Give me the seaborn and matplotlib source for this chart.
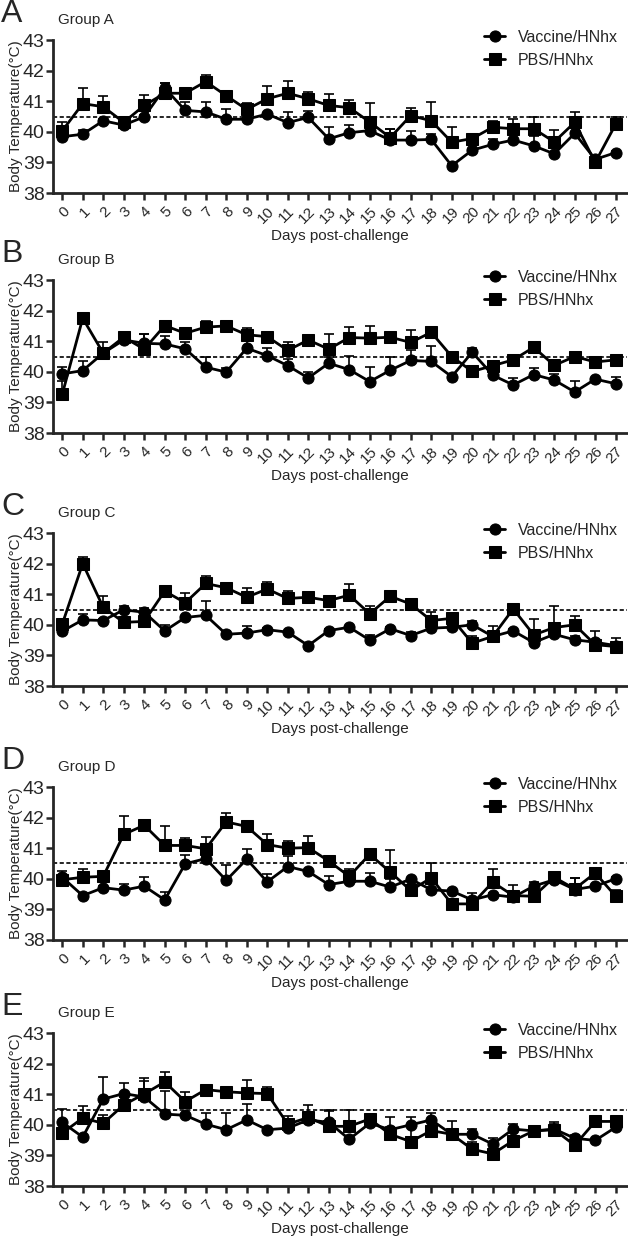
import matplotlib
matplotlib.use("Agg")
import matplotlib.pyplot as plt
import numpy as np
import pandas as pd
import seaborn as sns

sns.set_style("ticks")
plt.rcParams["font.family"] = ["Liberation Sans", "DejaVu Sans"]

days = list(range(28))
series = ["Vaccine/HNhx", "PBS/HNhx"]
groups = ["Group A", "Group B", "Group C", "Group D", "Group E"]
letters = ["A", "B", "C", "D", "E"]

vac_a = [39.84, 39.92, 40.36, 40.22, 40.49, 41.43, 40.70, 40.65, 40.41, 40.41, 40.58, 40.30, 40.47, 39.77,
         39.97, 40.04, 39.73, 39.73, 39.75, 38.89, 39.40, 39.59, 39.73, 39.54, 39.28, 39.95, 39.10, 39.32]
vac_a_err = [0.05, 0.14, 0.05, 0.05, 0.05, 0.16, 0.28, 0.33, 0.35, 0.05, 0.05, 0.34, 0.22, 0.39,
             0.24, 0.05, 0.35, 0.31, 0.17, 0.05, 0.05, 0.17, 0.05, 0.32, 0.05, 0.05, 0.05, 0.05]
pbs_a = [40.03, 40.92, 40.82, 40.31, 40.86, 41.26, 41.26, 41.64, 41.18, 40.73, 41.08, 41.26, 41.08, 40.86,
         40.79, 40.32, 39.81, 40.53, 40.36, 39.66, 39.78, 40.15, 40.10, 40.10, 39.67, 40.31, 39.00, 40.25]
pbs_a_err = [0.29, 0.50, 0.36, 0.05, 0.35, 0.33, 0.05, 0.20, 0.05, 0.22, 0.41, 0.40, 0.23, 0.36,
             0.26, 0.63, 0.27, 0.25, 0.62, 0.51, 0.05, 0.21, 0.32, 0.37, 0.38, 0.35, 0.05, 0.22]

vac_b = [39.93, 40.04, 40.61, 41.04, 40.93, 40.91, 40.75, 40.15, 39.99, 40.77, 40.53, 40.20, 39.80, 40.28,
         40.07, 39.68, 40.05, 40.37, 40.34, 39.84, 40.64, 39.89, 39.57, 39.91, 39.73, 39.34, 39.76, 39.61]
vac_b_err = [0.24, 0.32, 0.05, 0.05, 0.29, 0.27, 0.22, 0.34, 0.15, 0.30, 0.26, 0.22, 0.18, 0.22,
             0.44, 0.49, 0.45, 0.35, 0.49, 0.05, 0.15, 0.05, 0.23, 0.21, 0.20, 0.37, 0.05, 0.21]
pbs_b = [39.26, 41.75, 40.61, 41.13, 40.74, 41.51, 41.26, 41.46, 41.50, 41.21, 41.15, 40.70, 41.04, 40.74,
         41.12, 41.10, 41.13, 40.96, 41.29, 40.50, 40.01, 40.20, 40.39, 40.80, 40.21, 40.50, 40.32, 40.39]
pbs_b_err = [0.43, 0.13, 0.35, 0.05, 0.49, 0.05, 0.16, 0.21, 0.05, 0.22, 0.05, 0.29, 0.05, 0.49,
             0.36, 0.40, 0.05, 0.41, 0.05, 0.05, 0.05, 0.05, 0.05, 0.05, 0.05, 0.05, 0.05, 0.05]

vac_c = [39.79, 40.16, 40.14, 40.49, 40.41, 39.80, 40.24, 40.31, 39.69, 39.73, 39.84, 39.76, 39.32, 39.81,
         39.92, 39.50, 39.87, 39.65, 39.89, 39.92, 40.00, 39.62, 39.80, 39.42, 39.69, 39.51, 39.43, 39.32]
vac_c_err = [0.05, 0.20, 0.05, 0.13, 0.13, 0.20, 0.05, 0.46, 0.12, 0.22, 0.05, 0.05, 0.05, 0.05,
             0.05, 0.17, 0.05, 0.13, 0.05, 0.05, 0.13, 0.05, 0.05, 0.05, 0.05, 0.11, 0.05, 0.05]
pbs_c = [40.02, 42.00, 40.57, 40.08, 40.11, 41.10, 40.72, 41.35, 41.21, 40.90, 41.17, 40.86, 40.90, 40.79,
         40.97, 40.36, 40.93, 40.68, 40.14, 40.21, 39.40, 39.62, 40.52, 39.67, 39.91, 40.00, 39.35, 39.29]
pbs_c_err = [0.05, 0.21, 0.36, 0.05, 0.25, 0.16, 0.33, 0.26, 0.11, 0.31, 0.22, 0.26, 0.14, 0.16,
             0.37, 0.27, 0.05, 0.05, 0.29, 0.05, 0.25, 0.33, 0.15, 0.51, 0.71, 0.29, 0.44, 0.29]

vac_d = [40.05, 39.45, 39.71, 39.63, 39.76, 39.31, 40.49, 40.66, 39.95, 40.64, 39.90, 40.40, 40.24, 39.81,
         39.92, 39.92, 39.73, 39.99, 39.64, 39.60, 39.31, 39.48, 39.40, 39.76, 39.97, 39.65, 39.76, 40.00]
vac_d_err = [0.20, 0.05, 0.05, 0.21, 0.29, 0.27, 0.29, 0.05, 0.49, 0.33, 0.26, 0.36, 0.05, 0.29,
             0.05, 0.27, 0.27, 0.05, 0.05, 0.05, 0.05, 0.05, 0.05, 0.15, 0.05, 0.37, 0.05, 0.05]
pbs_d = [39.97, 40.05, 40.08, 41.45, 41.75, 41.09, 41.09, 40.98, 41.86, 41.71, 41.12, 41.00, 41.02, 40.58,
         40.08, 40.80, 40.22, 39.62, 40.03, 39.18, 39.18, 39.89, 39.45, 39.43, 40.05, 39.67, 40.19, 39.43]
pbs_d_err = [0.05, 0.27, 0.05, 0.59, 0.16, 0.62, 0.25, 0.38, 0.29, 0.05, 0.33, 0.25, 0.37, 0.05,
             0.25, 0.05, 0.73, 0.05, 0.48, 0.05, 0.35, 0.44, 0.36, 0.05, 0.05, 0.35, 0.05, 0.19]

vac_e = [40.08, 39.60, 40.84, 41.02, 40.91, 40.35, 40.31, 40.02, 39.84, 40.16, 39.84, 39.89, 40.16, 40.08,
         39.53, 40.05, 39.84, 40.00, 40.16, 39.69, 39.69, 39.37, 39.86, 39.80, 39.86, 39.56, 39.49, 39.92]
vac_e_err = [0.44, 0.05, 0.72, 0.33, 0.62, 0.74, 0.05, 0.38, 0.55, 0.51, 0.05, 0.24, 0.05, 0.38,
             0.05, 0.05, 0.40, 0.27, 0.24, 0.05, 0.17, 0.20, 0.17, 0.05, 0.22, 0.11, 0.05, 0.05]
pbs_e = [39.73, 40.22, 40.05, 40.65, 41.01, 41.40, 40.76, 41.15, 41.08, 41.04, 41.02, 40.02, 40.24, 39.95,
         39.95, 40.19, 39.69, 39.45, 39.81, 39.69, 39.20, 39.05, 39.48, 39.80, 39.84, 39.33, 40.11, 40.11]
pbs_e_err = [0.05, 0.38, 0.27, 0.27, 0.41, 0.33, 0.31, 0.05, 0.13, 0.41, 0.22, 0.27, 0.41, 0.52,
             0.52, 0.05, 0.25, 0.57, 0.05, 0.44, 0.25, 0.05, 0.05, 0.05, 0.19, 0.31, 0.05, 0.19]

panels = [(vac_a, vac_a_err, pbs_a, pbs_a_err), (vac_b, vac_b_err, pbs_b, pbs_b_err),
          (vac_c, vac_c_err, pbs_c, pbs_c_err), (vac_d, vac_d_err, pbs_d, pbs_d_err),
          (vac_e, vac_e_err, pbs_e, pbs_e_err)]
threshold = 40.5

W, H = 628, 1240
fig = plt.figure(figsize=(W / 100, H / 100), dpi=100)
tops = [40, 280, 533, 787, 1033]
left, right, height = 53, 627, 153

for i, (vac, vac_err, pbs, pbs_err) in enumerate(panels):
    top = tops[i]
    ax = fig.add_axes([left / W, 1 - (top + height) / H, (right - left) / W, height / H])
    df = pd.DataFrame({
        "day": days * 2,
        "temp": vac + pbs,
        "series": [series[0]] * 28 + [series[1]] * 28,
    })
    # upward-only error caps, GraphPad style
    for vals, err in [(vac, vac_err), (pbs, pbs_err)]:
        ax.errorbar(days, vals, yerr=[np.zeros(28), err], fmt="none", ecolor="black",
                    elinewidth=1.2, capsize=3.5, capthick=1.2, zorder=1)
    sns.lineplot(data=df, x="day", y="temp", hue="series", style="series",
                 palette=["black", "black"], markers=["o", "s"], dashes=False,
                 markersize=8, linewidth=2, markeredgecolor="black", ax=ax, zorder=3)
    ax.axhline(threshold, color="black", linestyle=(0, (2.5, 1.5)), linewidth=1.2, zorder=0)

    ax.set_xlim(-0.45, 27.55)
    ax.set_ylim(38, 43)
    ax.set_yticks([38, 39, 40, 41, 42, 43])
    ax.set_xticks(days)
    ax.set_xticklabels([str(d) for d in days], rotation=45, ha="right",
                       rotation_mode="anchor", fontsize=11)
    ax.tick_params(axis="y", labelsize=14, width=1.8, length=5, pad=1)
    ax.tick_params(axis="x", width=1.8, length=5, pad=3)
    for s in ["left", "bottom"]:
        ax.spines[s].set_linewidth(2)
    sns.despine(ax=ax)
    ax.set_xlabel("Days post-challenge", fontsize=11, labelpad=2)
    ax.set_ylabel("Body Temperature(°C)", fontsize=11, labelpad=0)

    handles, labels = ax.get_legend_handles_labels()
    ax.legend(handles, labels, loc="upper left", bbox_to_anchor=((478 - left) / (right - left), 1.11),
              frameon=False, fontsize=11.5, handlelength=1.3, handletextpad=0.8,
              labelspacing=0.5, borderaxespad=0)

    fig.text(1 / W, 1 - (top - 26) / H, letters[i], fontsize=23, va="center", ha="left")
    fig.text(58 / W, 1 - (top - 20) / H, groups[i], fontsize=11, va="center", ha="left")

fig.savefig("out.png", dpi=100)
